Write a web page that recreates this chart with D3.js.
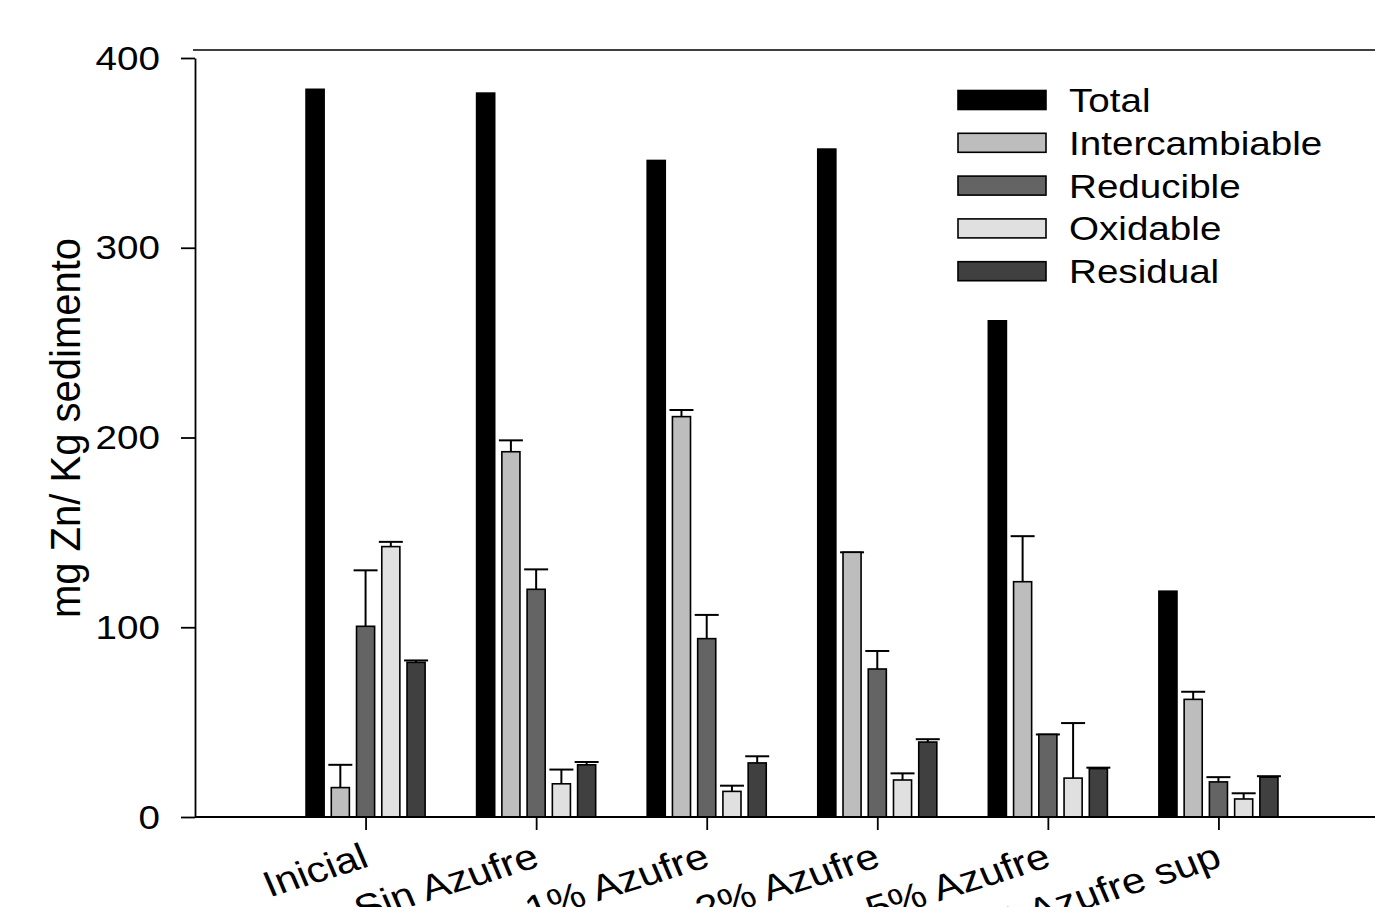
<!DOCTYPE html>
<html>
<head>
<meta charset="utf-8">
<script src="https://cdn.jsdelivr.net/npm/d3@7"></script>
<style>
  body { margin: 0; background: #fff; }
  text { font-family: "Liberation Sans", Arial, sans-serif; fill: #000; }
</style>
</head>
<body>
<div id="chart"></div>
<script>
var categories = ["Inicial", "Sin Azufre", "1% Azufre", "2% Azufre", "5% Azufre", "5% Azufre sup"];
var fractions = ["Total", "Intercambiable", "Reducible", "Oxidable", "Residual"];
var colors = ["#000000", "#bdbdbd", "#646464", "#e0e0e0", "#404040"];

var total          = [383.5, 381.5, 346, 352, 261.5, 119];
var intercambiable = [15.5, 192.5, 211, 139.5, 124, 62];
var reducible      = [100.5, 120, 94, 78, 43.5, 18.5];
var oxidable       = [142.5, 17.5, 13.5, 19.5, 20.5, 9.5];
var residual       = [81.5, 27.5, 28.5, 39.5, 25.5, 21];

var errTotal          = [0, 0, 0, 0, 0, 0];
var errIntercambiable = [12, 6, 3.5, 0, 24, 4];
var errReducible      = [29.5, 10.5, 12.5, 9.5, 0, 2.5];
var errOxidable       = [2.5, 7.5, 3, 3.5, 29, 3];
var errResidual       = [1, 1.5, 3.5, 1.5, 0.5, 0.5];

var yTicks = [0, 100, 200, 300, 400];

var series = [total, intercambiable, reducible, oxidable, residual];
var errors = [errTotal, errIntercambiable, errReducible, errOxidable, errResidual];

var W = 1375, H = 907, sx = 1.17;

var svg = d3.select("#chart").append("svg")
    .attr("width", W)
    .attr("height", H);

var x = d3.scaleLinear().domain([0, 7]).range([195, 1389]);
var y = d3.scaleLinear().domain([0, 400]).range([817, 58]);

var pitch = 0.148, bw = 0.106;

var bars = [];
series.forEach(function(s, j) {
  s.forEach(function(v, i) {
    bars.push({ i: i, j: j, v: v, e: errors[j][i] });
  });
});

// frame top line
svg.append("line")
    .attr("x1", 193).attr("x2", W)
    .attr("y1", 50).attr("y2", 50)
    .attr("stroke", "#000").attr("stroke-width", 1.5);

// error bars (behind the bars)
var eb = svg.selectAll(".err")
    .data(bars.filter(function(d) { return d.j > 0; }))
    .enter().append("g").attr("class", "err");

eb.append("line")
    .attr("x1", function(d) { return x(d.i + 1 + (d.j - 2) * pitch); })
    .attr("x2", function(d) { return x(d.i + 1 + (d.j - 2) * pitch); })
    .attr("y1", function(d) { return y(d.v); })
    .attr("y2", function(d) { return y(d.v + d.e); })
    .attr("stroke", "#000").attr("stroke-width", 2);

eb.append("line")
    .attr("x1", function(d) { return x(d.i + 1 + (d.j - 2) * pitch) - 12; })
    .attr("x2", function(d) { return x(d.i + 1 + (d.j - 2) * pitch) + 12; })
    .attr("y1", function(d) { return y(d.v + d.e); })
    .attr("y2", function(d) { return y(d.v + d.e); })
    .attr("stroke", "#000").attr("stroke-width", 2);

svg.selectAll(".bar")
    .data(bars)
    .enter().append("rect")
    .attr("class", "bar")
    .attr("x", function(d) { return x(d.i + 1 + (d.j - 2) * pitch - bw / 2); })
    .attr("width", x(bw) - x(0))
    .attr("y", function(d) { return y(d.v); })
    .attr("height", function(d) { return y(0) - y(d.v); })
    .attr("fill", function(d) { return colors[d.j]; })
    .attr("stroke", "#000")
    .attr("stroke-width", 1.6);

// y axis
var yAxis = svg.append("g")
    .attr("transform", "translate(195,0)")
    .call(d3.axisLeft(y).tickValues(yTicks).tickSize(14).tickSizeOuter(0));
yAxis.select(".domain").attr("stroke-width", 1.8);
yAxis.selectAll(".tick line").attr("stroke-width", 1.8);
yAxis.selectAll(".tick text")
    .attr("font-size", 33)
    .attr("font-family", "Liberation Sans, Arial, sans-serif")
    .attr("x", 0).attr("dy", 0)
    .attr("text-anchor", "end")
    .attr("transform", "translate(-35,11) scale(" + sx + ",1)");

// x axis
var xAxis = svg.append("g")
    .attr("transform", "translate(0,817)")
    .call(d3.axisBottom(x).tickValues(d3.range(1, 7)).tickSize(13).tickSizeOuter(0).tickFormat(""));
xAxis.select(".domain").attr("d", "M195,0H" + W).attr("stroke-width", 1.8);
xAxis.selectAll(".tick line").attr("stroke-width", 1.8);

svg.selectAll(".xlab")
    .data(categories)
    .enter().append("text")
    .attr("class", "xlab")
    .attr("font-size", 36)
    .attr("text-anchor", "end")
    .attr("transform", function(d, i) {
      return "translate(" + (x(i + 1) + 5) + ",866) scale(" + sx + ",1) rotate(-20)";
    })
    .text(function(d) { return d; });

// y label
svg.append("text")
    .attr("font-size", 40)
    .attr("text-anchor", "middle")
    .attr("transform", "translate(80,428) scale(1.05,1) rotate(-90)")
    .text("mg Zn/ Kg sedimento");

// legend
var lg = svg.selectAll(".leg")
    .data(fractions)
    .enter().append("g")
    .attr("class", "leg")
    .attr("transform", function(d, i) { return "translate(958," + (100 + i * 42.8) + ")"; });

lg.append("rect")
    .attr("x", 0).attr("y", -9.5)
    .attr("width", 88).attr("height", 19)
    .attr("fill", function(d, i) { return colors[i]; })
    .attr("stroke", "#000").attr("stroke-width", 1.6);

lg.append("text")
    .attr("font-size", 33)
    .attr("transform", "translate(111,12) scale(" + sx + ",1)")
    .text(function(d) { return d; });
</script>
</body>
</html>
